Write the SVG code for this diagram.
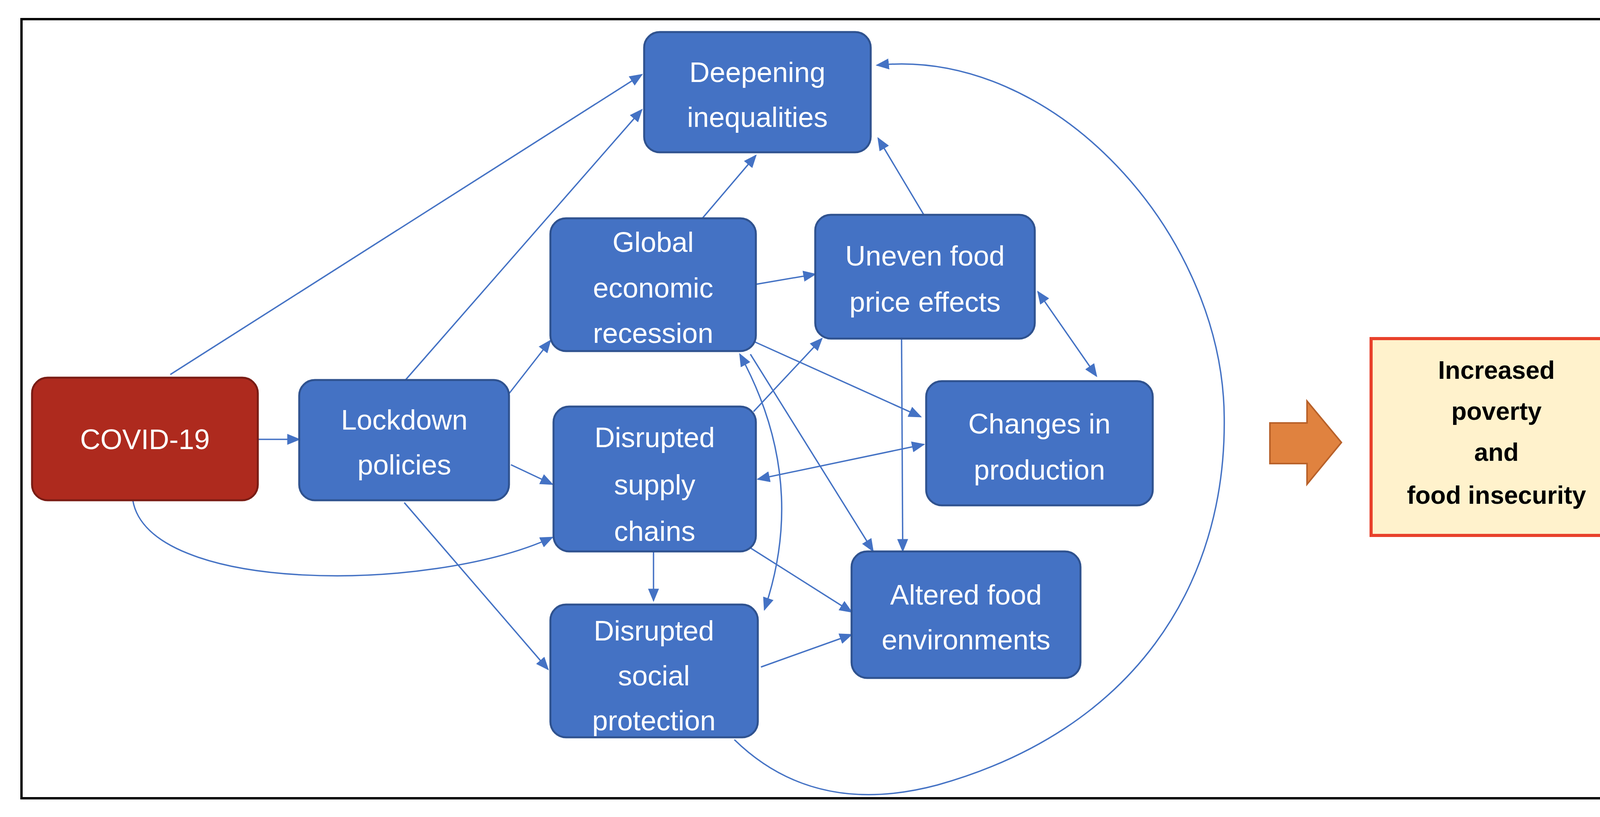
<svg xmlns="http://www.w3.org/2000/svg" width="4273" height="2092" viewBox="0 0 4273 2092">
<style>
.n{fill:#4472C4;stroke:#2F528F;stroke-width:5}
.t{font-family:"Liberation Sans",Arial,sans-serif;font-size:72px;fill:#fff;text-anchor:middle}
.r{font-family:"Liberation Sans",Arial,sans-serif;font-size:64px;font-weight:bold;fill:#000;text-anchor:middle}
.c path{fill:none;stroke:#4472C4;stroke-width:3.5;marker-end:url(#a)}
.c path.b{marker-start:url(#a)}
</style>
<defs>
<marker id="a" viewBox="0 0 10 10" refX="9" refY="5" markerWidth="34" markerHeight="28" markerUnits="userSpaceOnUse" orient="auto-start-reverse" preserveAspectRatio="none"><path d="M0,0L10,5L0,10z" fill="#4472C4"/></marker>
</defs>
<rect width="4273" height="2092" fill="#fff"/>
<rect x="55" y="49" width="4163" height="1995" fill="none" stroke="#000" stroke-width="6"/>
<g class="c">
<path d="M436,959L1643,191"/>
<path d="M1038,973L1643,281"/>
<path d="M1798,559L1935,398"/>
<path d="M2365,550L2248,354"/>
<path d="M1880,1894C2050,2060 2250,2050 2400,2010C2900,1870 3140,1500 3134,1067C3130,600 2700,120 2245,167"/>
<path d="M1303,1008L1409,872"/>
<path d="M660,1125L766,1125"/>
<path d="M1308,1190L1414,1240"/>
<path d="M340,1281C380,1520 1100,1520 1414,1376"/>
<path d="M1035,1287L1403,1714"/>
<path d="M1935,728L2087,702"/>
<path d="M1929,1054L2104,867"/>
<path d="M1929,874L2357,1067"/>
<path d="M1921,907L2235,1411"/>
<path d="M2308,867L2311,1411"/>
<path class="b" d="M2657,747L2807,963"/>
<path class="b" d="M1940,1227L2365,1138"/>
<path class="b" d="M1894,907Q2070,1230 1957,1561"/>
<path d="M1673,1414L1673,1538"/>
<path d="M1921,1403L2180,1567"/>
<path d="M1948,1708L2180,1625"/>
</g>
<g id="covid"><rect x="82" y="967" width="578" height="314" rx="40" fill="#AE2A1E" stroke="#7A1C14" stroke-width="5"/><text class="t" x="371" y="1150">COVID-19</text></g>
<g id="lockdown"><rect class="n" x="766" y="973" width="537" height="308" rx="40"/><text class="t" x="1035" y="1100">Lockdown</text><text class="t" x="1035" y="1215">policies</text></g>
<g id="deepening"><rect class="n" x="1649" y="82" width="580" height="308" rx="40"/><text class="t" x="1939" y="210">Deepening</text><text class="t" x="1939" y="325">inequalities</text></g>
<g id="global"><rect class="n" x="1409" y="559" width="526" height="340" rx="40"/><text class="t" x="1672" y="645">Global</text><text class="t" x="1672" y="762">economic</text><text class="t" x="1672" y="878">recession</text></g>
<g id="uneven"><rect class="n" x="2087" y="550" width="562" height="317" rx="40"/><text class="t" x="2368" y="680">Uneven food</text><text class="t" x="2368" y="798">price effects</text></g>
<g id="changes"><rect class="n" x="2371" y="976" width="580" height="318" rx="40"/><text class="t" x="2661" y="1110">Changes in</text><text class="t" x="2661" y="1228">production</text></g>
<g id="supply"><rect class="n" x="1417" y="1041" width="518" height="371" rx="40"/><text class="t" x="1676" y="1145">Disrupted</text><text class="t" x="1676" y="1266">supply</text><text class="t" x="1676" y="1385">chains</text></g>
<g id="social"><rect class="n" x="1409" y="1548" width="531" height="340" rx="40"/><text class="t" x="1674" y="1640">Disrupted</text><text class="t" x="1674" y="1755">social</text><text class="t" x="1674" y="1870">protection</text></g>
<g id="altered"><rect class="n" x="2180" y="1412" width="586" height="324" rx="40"/><text class="t" x="2473" y="1548">Altered food</text><text class="t" x="2473" y="1663">environments</text></g>
<g id="bigarrow"><path d="M3251,1083H3346V1027L3434,1133L3346,1240V1187H3251Z" fill="#E0823F" stroke="#B8612A" stroke-width="4"/></g>
<g id="result"><rect x="3510" y="867" width="643" height="504" fill="#FFF2CC" stroke="#E8412B" stroke-width="8"/><text class="r" x="3831" y="970">Increased</text><text class="r" x="3831" y="1075">poverty</text><text class="r" x="3831" y="1180">and</text><text class="r" x="3831" y="1290">food insecurity</text></g>
</svg>
